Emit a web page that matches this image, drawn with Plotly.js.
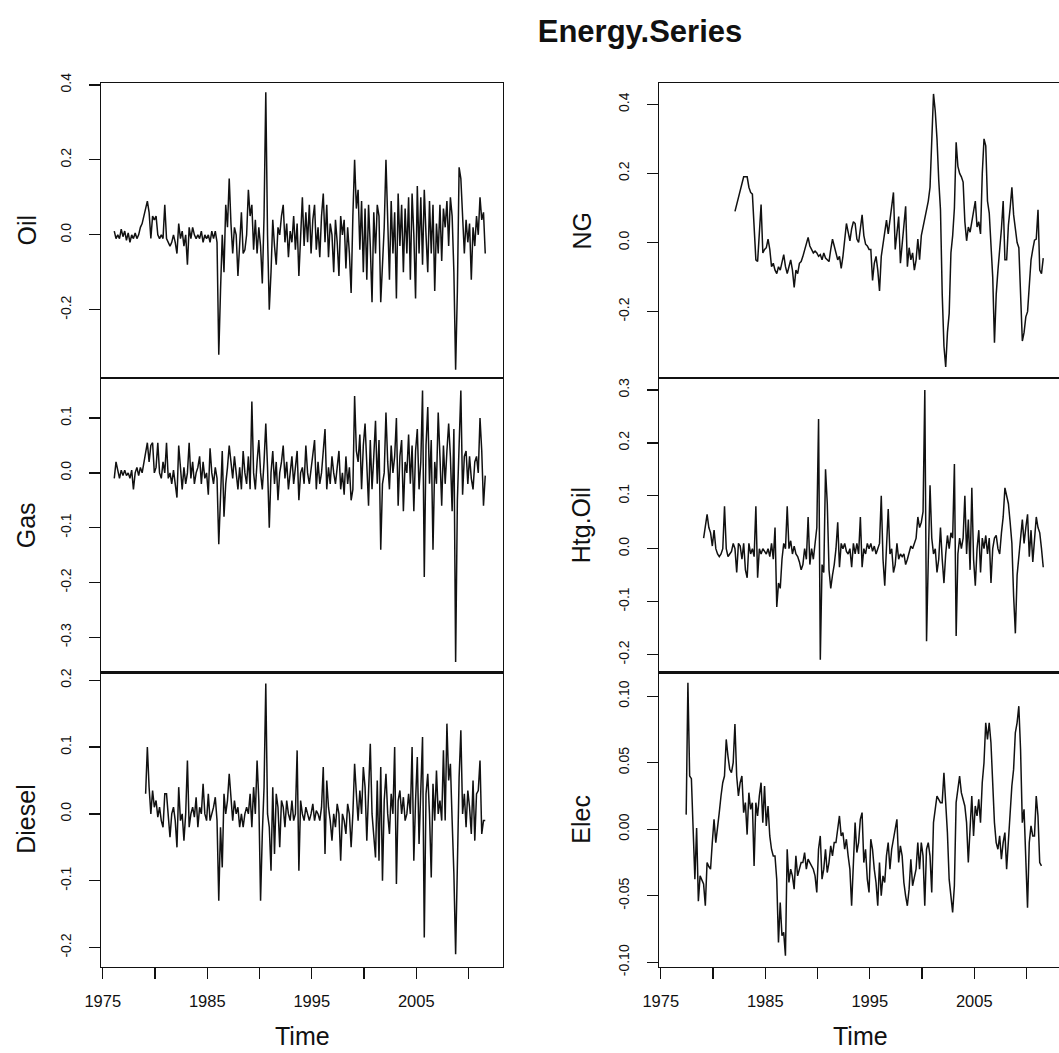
<!DOCTYPE html>
<html><head><meta charset="utf-8">
<script src="https://cdn.plot.ly/plotly-3.0.1.min.js"></script>
<style>html,body{margin:0;padding:0;overflow:hidden;background:#fff}#chart{width:1064px;height:1053px}</style>
</head><body><div id="chart"></div>
<script>
// ---- data (bimonthly readings, 6 per year) ----
const perYear = 6;
const oilStart = 1976.1;
const gasStart = 1976.1;
const dieselStart = 1979.1;
const ngStart = 1982.1;
const htgStart = 1979.1;
const elecStart = 1977.43;

const oil = [
0.01,-0.01,0.0,-0.01,0.015,-0.005,
0.01,-0.015,0.005,-0.02,0.0,-0.01,
0.005,-0.01,0.0,0.02,0.03,0.05,
0.07,0.09,0.06,-0.01,0.05,0.04,
0.05,0.0,-0.01,0.0,-0.01,0.08,
-0.01,-0.02,-0.03,-0.02,0.0,-0.02,
-0.05,0.03,-0.01,0.01,-0.03,0.0,
-0.08,0.02,-0.01,0.02,0.0,-0.01,
0.0,-0.01,0.01,-0.02,0.0,-0.01,
0.0,-0.02,0.01,-0.01,0.01,-0.02,
-0.32,-0.15,0.0,-0.1,0.08,0.02,
0.15,0.03,-0.05,0.02,0.0,-0.11,
-0.03,0.06,-0.05,-0.04,0.0,0.12,
0.05,0.08,-0.04,0.04,-0.05,0.02,
-0.03,-0.13,0.05,0.38,0.0,-0.2,
-0.1,0.04,-0.03,-0.08,0.02,0.0,
0.05,0.08,-0.02,0.03,-0.06,0.01,
-0.02,0.05,-0.04,0.03,-0.11,0.0,
0.10,-0.03,0.06,-0.02,0.08,-0.05,
0.04,0.08,-0.04,0.02,-0.06,0.05,
0.11,-0.02,0.08,-0.06,0.03,0.0,
-0.10,0.04,-0.02,-0.11,0.05,0.0,
0.04,-0.09,0.02,-0.05,-0.155,0.05,
0.2,0.07,0.12,-0.04,0.09,-0.1,
0.07,-0.12,0.08,-0.03,-0.18,0.06,
-0.05,0.08,0.05,-0.18,-0.08,0.02,
0.2,0.04,-0.12,0.09,-0.05,0.06,
-0.17,0.11,-0.03,0.08,-0.1,0.07,
-0.05,0.1,-0.12,0.11,0.0,-0.17,
0.13,-0.05,0.1,-0.08,0.12,0.0,
-0.1,0.09,-0.05,0.08,-0.15,0.03,
-0.05,0.08,-0.07,0.07,0.02,0.09,
-0.03,0.1,0.05,-0.1,-0.36,-0.15,
0.18,0.15,0.05,-0.05,0.04,-0.02,
0.03,-0.12,0.02,-0.03,0.05,0.0,
0.1,0.04,0.06,-0.05];

const gas = [
-0.01,0.02,0.005,-0.01,0.005,-0.005,
0.005,-0.005,0.0,-0.01,0.005,-0.03,
0.0,0.01,-0.005,0.01,0.0,0.02,
0.04,0.055,0.02,0.05,0.055,0.0,
0.01,0.055,0.0,-0.01,0.02,0.0,
0.055,-0.01,0.0,-0.02,0.005,-0.02,
-0.045,0.05,0.0,-0.03,0.01,-0.02,
0.0,0.055,-0.01,0.02,-0.02,0.0,
0.01,0.03,-0.02,0.02,-0.01,0.0,
-0.04,0.045,0.0,-0.02,0.01,-0.01,
-0.13,-0.03,0.04,-0.08,-0.02,0.01,
0.05,0.02,-0.01,0.03,0.0,-0.03,
0.01,-0.03,0.04,0.0,-0.02,0.03,
-0.03,0.13,0.0,-0.03,0.02,0.06,
0.0,-0.03,0.02,0.09,0.01,-0.1,
0.0,0.04,-0.02,0.02,-0.05,0.0,
0.02,0.05,-0.01,0.02,-0.03,0.0,
0.03,-0.02,0.01,0.04,-0.05,0.0,
0.01,-0.02,0.05,0.0,-0.02,0.01,
0.03,0.06,-0.03,0.02,-0.02,0.0,
0.04,0.08,-0.03,0.01,-0.02,0.03,
0.0,-0.02,0.01,0.04,-0.03,0.0,
-0.04,0.03,-0.02,0.01,-0.05,-0.03,
0.14,0.04,0.02,0.07,-0.03,0.05,
0.09,0.0,-0.06,0.06,-0.03,0.03,
0.095,-0.02,0.06,-0.14,-0.02,0.0,
0.11,0.02,-0.03,0.05,0.0,0.03,
0.1,-0.06,0.03,0.06,-0.07,0.02,
0.0,0.07,-0.02,0.05,-0.07,0.04,
0.08,-0.03,0.02,0.15,-0.19,0.05,
0.12,-0.02,0.06,-0.14,0.02,-0.02,
0.11,0.03,-0.06,0.05,-0.02,0.04,
0.09,0.03,-0.07,0.08,-0.345,-0.05,
0.07,0.15,-0.04,0.03,0.04,-0.02,
0.03,-0.01,-0.03,0.02,0.03,0.0,
0.1,0.04,-0.06,-0.005];

const diesel = [
0.03,0.1,0.04,0.0,0.035,0.01,
0.02,-0.005,0.01,-0.01,-0.02,0.03,
0.03,-0.01,-0.035,0.0,0.01,-0.01,
-0.05,0.04,-0.01,0.0,-0.04,0.0,
0.08,-0.02,0.0,0.01,-0.005,0.025,
-0.02,0.01,0.0,0.045,0.0,-0.01,
0.03,-0.01,0.0,0.01,0.025,-0.01,
-0.13,-0.02,-0.08,0.03,0.0,0.02,
0.06,0.02,-0.01,0.02,0.0,0.01,
-0.02,0.0,-0.02,0.0,0.01,0.0,
0.03,-0.02,0.04,0.0,0.08,0.02,
-0.13,-0.03,0.04,0.195,0.0,-0.02,
-0.085,0.04,-0.06,0.03,0.01,-0.05,
0.02,0.01,-0.02,0.02,0.0,-0.01,
0.02,-0.01,0.0,0.095,-0.085,0.02,
0.0,-0.01,0.01,0.0,-0.01,0.0,
0.015,-0.01,0.005,0.0,-0.01,0.01,
0.07,-0.06,0.05,0.01,-0.01,-0.04,
0.0,-0.02,0.015,0.0,-0.07,0.0,
-0.01,-0.03,0.015,0.0,-0.05,0.0,
0.075,0.03,-0.01,0.035,0.0,0.07,
0.04,-0.04,0.03,0.105,0.0,-0.03,
-0.065,0.05,-0.07,0.07,-0.1,0.02,
0.06,0.0,-0.03,0.03,0.0,0.1,
-0.105,0.02,0.035,0.0,0.025,-0.01,
0.0,0.03,0.0,0.1,-0.07,0.02,
0.085,-0.045,0.05,0.115,-0.185,0.03,
0.06,0.0,-0.095,0.045,-0.01,0.065,
0.0,0.02,-0.01,0.095,-0.01,0.135,
0.05,0.075,-0.01,-0.09,-0.21,-0.05,
0.055,0.125,0.0,0.03,-0.02,0.035,
0.01,-0.03,0.05,-0.04,0.03,0.035,
0.08,-0.03,-0.01,-0.01];

const ng = [
0.09,0.11,0.13,0.145,0.17,0.19,
0.19,0.19,0.16,0.145,0.14,0.06,
-0.05,-0.055,0.02,0.11,-0.03,-0.02,
-0.015,0.01,-0.02,-0.07,-0.06,-0.08,
-0.09,-0.07,-0.08,-0.06,-0.035,-0.07,
-0.09,-0.07,-0.05,-0.08,-0.13,-0.08,
-0.09,-0.06,-0.055,-0.04,-0.02,0.0,
0.015,-0.01,-0.02,-0.03,-0.025,-0.03,
-0.04,-0.035,-0.05,-0.03,-0.045,-0.05,
-0.055,-0.02,0.01,-0.01,-0.03,-0.05,
-0.04,-0.075,-0.04,0.01,0.055,0.03,
0.005,0.04,0.06,0.055,0.01,0.0,
0.04,0.08,0.02,-0.005,-0.01,-0.02,
-0.02,-0.11,-0.06,-0.04,-0.08,-0.14,
-0.04,0.0,0.03,0.065,0.025,0.06,
0.1,0.145,-0.02,0.03,0.075,-0.06,
0.0,0.05,0.105,-0.07,-0.015,-0.05,
-0.03,-0.08,-0.05,0.01,-0.05,0.02,
0.045,0.08,0.105,0.12,0.16,0.3,
0.43,0.38,0.3,0.18,0.095,-0.15,
-0.3,-0.36,-0.26,-0.205,-0.03,0.02,
0.1,0.29,0.22,0.2,0.19,0.175,
0.06,0.005,0.045,0.03,0.055,0.09,
0.12,0.045,0.06,0.025,0.2,0.3,
0.28,0.12,0.085,-0.015,-0.1,-0.29,
-0.15,-0.08,-0.03,0.04,0.12,-0.05,
-0.05,0.05,0.1,0.16,0.08,0.035,
0.0,-0.015,-0.15,-0.285,-0.26,-0.215,
-0.2,-0.13,-0.05,-0.02,0.007,0.01,
0.095,-0.08,-0.09,-0.045];

const htgOil = [
0.02,0.04,0.065,0.04,0.03,0.005,
0.035,0.0,-0.01,-0.015,-0.01,0.0,
0.08,0.0,-0.015,-0.01,-0.005,0.01,
0.0,-0.045,0.01,0.005,-0.02,0.01,
-0.04,-0.055,0.01,-0.01,0.0,-0.015,
0.08,-0.055,0.0,-0.01,0.0,-0.005,
-0.01,0.0,-0.015,0.01,-0.02,0.04,
-0.11,-0.065,-0.075,-0.02,0.01,0.0,
0.08,0.0,0.015,-0.01,0.005,-0.01,
-0.015,-0.025,-0.04,-0.03,0.0,-0.02,
0.06,-0.03,0.0,-0.02,0.01,0.04,
0.245,-0.21,-0.03,-0.045,0.15,0.085,
-0.04,-0.075,-0.05,-0.03,0.0,0.05,
-0.035,0.01,0.0,0.01,-0.005,-0.01,
0.0,-0.035,0.01,-0.01,0.01,-0.01,
0.06,-0.035,0.0,-0.01,0.01,0.0,
0.01,-0.005,0.005,-0.01,0.0,0.01,
0.1,-0.02,-0.07,0.02,0.075,-0.01,
0.0,-0.045,-0.03,0.01,-0.02,-0.01,
-0.015,-0.01,-0.03,-0.02,-0.005,0.005,
0.0,0.01,0.02,0.06,0.04,0.05,
0.07,0.3,-0.175,-0.02,0.12,0.02,
-0.01,0.0,-0.045,-0.02,0.04,-0.02,
-0.065,-0.01,0.025,0.0,0.03,0.02,
0.16,-0.165,-0.01,0.02,0.0,0.02,
0.1,-0.01,0.055,-0.04,0.115,-0.02,
-0.07,0.0,0.035,-0.045,0.02,0.0,
0.025,-0.01,0.02,-0.065,0.0,0.02,
0.025,0.0,-0.01,0.03,0.06,0.115,
0.1,0.085,0.05,0.01,-0.09,-0.16,
-0.05,-0.02,0.02,0.055,0.01,0.04,
0.065,-0.015,0.035,-0.025,0.01,0.06,
0.04,0.03,0.0,-0.035];

const elec = [
0.011,0.11,0.04,0.038,
0.0,-0.0375,0.001,-0.054,-0.035,-0.038,
-0.041,-0.0575,-0.025,-0.028,-0.03,-0.01,
0.0075,-0.01,0.0,0.0125,0.025,0.035,
0.04,0.0675,0.055,0.045,0.0425,0.05,
0.079,0.04,0.025,0.035,0.04,0.0125,
0.02,-0.004,0.0275,0.015,0.02,-0.0275,
0.02,0.01,0.025,0.035,0.005,0.0325,
0.0025,0.0175,-0.005,-0.015,-0.02,-0.02,
-0.0375,-0.085,-0.055,-0.08,-0.0775,-0.095,
-0.015,-0.04,-0.03,-0.035,-0.045,-0.02,
-0.035,-0.03,-0.025,-0.025,-0.0175,-0.03,
-0.0225,-0.025,-0.0275,-0.03,-0.035,-0.0475,
-0.015,-0.005,-0.0375,-0.03,-0.015,-0.0325,
-0.025,-0.0125,-0.02,-0.01,-0.01,0.0,
0.01,-0.005,-0.0025,-0.015,-0.0075,-0.02,
-0.03,-0.0575,-0.02,0.005,-0.0175,-0.01,
0.0075,0.0125,-0.025,-0.015,-0.0375,-0.0475,
-0.0075,-0.015,-0.03,-0.04,-0.0575,-0.025,
-0.05,-0.035,-0.04,-0.02,-0.01,-0.03,
-0.015,-0.0075,0.0,0.0075,-0.025,-0.0125,
-0.02,-0.04,-0.05,-0.0575,-0.045,-0.0225,
-0.0425,-0.035,-0.03,-0.01,-0.03,-0.01,
-0.02,-0.0575,-0.015,-0.01,-0.02,-0.0475,
0.005,0.015,0.025,0.0225,0.02,0.02,
0.0425,0.02,-0.0025,-0.0375,-0.05,-0.0625,
-0.0425,0.02,0.03,0.04,0.0275,0.022,
0.0175,0.005,-0.025,0.0,0.025,-0.005,
0.0175,0.01,0.0225,0.005,0.035,0.05,
0.08,0.0675,0.08,0.065,0.0275,0.005,
-0.01,-0.015,-0.005,-0.0225,-0.01,-0.0025,
-0.03,-0.01,0.0175,0.0325,0.045,0.0725,
0.08,0.0925,0.06,0.005,0.015,-0.02,
-0.059,-0.01,0.0025,-0.005,-0.005,0.025,
0.01,-0.025,-0.0275];

// axis tick labels
const xTickVals = [1975,1980,1985,1990,1995,2000,2005,2010];
const xTickText = ['1975','','1985','','1995','','2005',''];
const oilTicks = [-0.2,0,0.2,0.4];
const oilTickText = ['-0.2','0.0','0.2','0.4'];
const gasTicks = [-0.3,-0.2,-0.1,0,0.1];
const gasTickText = ['-0.3','-0.2','-0.1','0.0','0.1'];
const dieselTicks = [-0.2,-0.1,0,0.1,0.2];
const dieselTickText = ['-0.2','-0.1','0.0','0.1','0.2'];
const ngTicks = [-0.2,0,0.2,0.4];
const ngTickText = ['-0.2','0.0','0.2','0.4'];
const htgTicks = [-0.2,-0.1,0,0.1,0.2,0.3];
const htgTickText = ['-0.2','-0.1','0.0','0.1','0.2','0.3'];
const elecTicks = [-0.10,-0.05,0,0.05,0.10];
const elecTickText = ['-0.10','-0.05','0.00','0.05','0.10'];
const seriesNames = ['Oil','Gas','Diesel','NG','Htg.Oil','Elec'];

// ---- layout ----
const W = 1064, H = 1053;
const FONT = 'Liberation Sans, Arial, Helvetica, sans-serif';
const colPx = [[101,503],[659,1061]];
const rowPx = [[83,378],[378,672.5],[672.5,967]];
const xRange = [1974.83, 2013.3];

const panels = [
  {y: oil, start: oilStart, col:0, row:0, range:[-0.382,0.405], tv: oilTicks, tt: oilTickText},
  {y: gas, start: gasStart, col:0, row:1, range:[-0.364,0.173], tv: gasTicks, tt: gasTickText},
  {y: diesel, start: dieselStart, col:0, row:2, range:[-0.229,0.2115], tv: dieselTicks, tt: dieselTickText},
  {y: ng, start: ngStart, col:1, row:0, range:[-0.392,0.4616], tv: ngTicks, tt: ngTickText},
  {y: htgOil, start: htgStart, col:1, row:1, range:[-0.234,0.3226], tv: htgTicks, tt: htgTickText},
  {y: elec, start: elecStart, col:1, row:2, range:[-0.1035,0.1178], tv: elecTicks, tt: elecTickText}
];

function timeIndex(start, n){ return Array.from({length:n}, (_, i) => start + i / perYear); }

const traces = [];
const layout = {
  width: W, height: H,
  margin: {l:0, r:0, t:0, b:0},
  paper_bgcolor: '#fff', plot_bgcolor: '#fff',
  showlegend: false,
  font: {family: FONT, color: '#111'},
  title: {text: '<b>Energy.Series</b>', x: 640/W, xanchor: 'center', y: 1 - 31/H, yanchor: 'middle',
          font: {family: FONT, size: 31, color: '#111'}},
  annotations: []
};

panels.forEach((p, i) => {
  const k = i + 1;
  const xa = 'x' + (k === 1 ? '' : k), ya = 'y' + (k === 1 ? '' : k);
  traces.push({
    type: 'scatter', mode: 'lines', x: timeIndex(p.start, p.y.length), y: p.y,
    xaxis: xa, yaxis: ya, name: seriesNames[i],
    line: {color: '#111', width: 1.5}, hoverinfo: 'skip'
  });
  const cx = colPx[p.col], ry = rowPx[p.row];
  const bottom = p.row === 2;
  layout['xaxis' + (k === 1 ? '' : k)] = {
    domain: [cx[0]/W, cx[1]/W], anchor: ya, range: xRange,
    showline: true, mirror: true, linecolor: '#111', linewidth: 1.3,
    showgrid: false, zeroline: false,
    ticks: bottom ? 'outside' : '', ticklen: 11, tickwidth: 1.3, tickcolor: '#111',
    tickmode: 'array', tickvals: xTickVals, ticktext: xTickText,
    showticklabels: bottom, ticklabelstandoff: 8,
    tickfont: {family: FONT, size: 16.5, color: '#111'}
  };
  layout['yaxis' + (k === 1 ? '' : k)] = {
    domain: [1 - ry[1]/H, 1 - ry[0]/H], anchor: xa, range: p.range,
    showline: true, mirror: true, linecolor: '#111', linewidth: 1.3,
    showgrid: false, zeroline: false,
    ticks: 'outside', ticklen: 11, tickwidth: 1.3, tickcolor: '#111',
    tickmode: 'array', tickvals: p.tv, ticktext: p.tt, tickangle: -90,
    ticklabelstandoff: 12,
    tickfont: {family: FONT, size: 14, color: '#111'}
  };
  layout.annotations.push({
    text: seriesNames[i], xref: 'paper', yref: 'paper',
    x: (p.col === 0 ? 26 : 581)/W, y: 1 - ((ry[0] + ry[1]) / 2)/H,
    xanchor: 'center', yanchor: 'middle', textangle: -90, showarrow: false,
    font: {family: FONT, size: 25, color: '#111'}
  });
  if (bottom) {
    layout.annotations.push({
      text: 'Time', xref: 'paper', yref: 'paper',
      x: ((cx[0] + cx[1]) / 2)/W, y: 1 - 1036/H,
      xanchor: 'center', yanchor: 'middle', showarrow: false,
      font: {family: FONT, size: 25, color: '#111'}
    });
  }
});

Plotly.newPlot('chart', traces, layout, {displayModeBar: false, staticPlot: true});
</script>
</body></html>
